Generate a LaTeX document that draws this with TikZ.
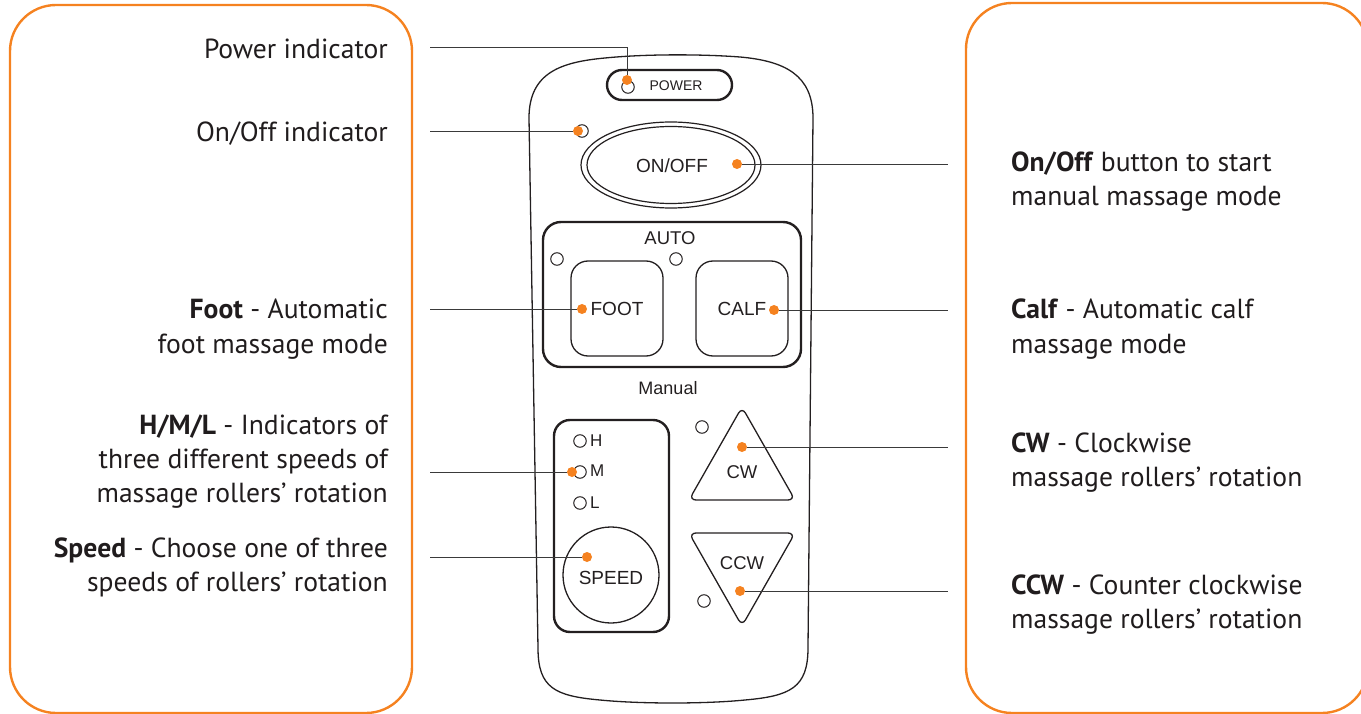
\documentclass[tikz,border=0pt]{standalone}
\usepackage{fontspec}
\setmainfont{PT Sans}
\newfontfamily\arialf{Liberation Sans}
\usetikzlibrary{shapes.geometric}
\definecolor{orng}{HTML}{F58220}
\definecolor{txt}{HTML}{231F20}
\definecolor{lead}{HTML}{3A3A3A}
\begin{document}
\begin{tikzpicture}[x=1pt,y=-1pt,
  panel/.style={draw=orng, line width=2.4pt, rounded corners=46pt},
  body/.style={draw=txt, line width=1.3pt},
  thickbox/.style={draw=txt, line width=2.4pt},
  btn/.style={draw=txt, line width=1.3pt, rounded corners=17pt, inner sep=0pt, font=\arialf\fontsize{19}{21}\selectfont, text=txt},
  led/.style={circle, draw=txt, line width=1pt, minimum size=12.5pt, inner sep=0pt},
  odot/.style={circle, fill=orng, minimum size=10pt, inner sep=0pt},
  leader/.style={draw=lead, line width=0.9pt},
  lbl/.style={font=\fontsize{27.6}{34}\selectfont, text=txt!90!black, inner sep=0pt},
  lblL/.style={lbl, anchor=base east},
  lblR/.style={lbl, anchor=base west},
  rem/.style={font=\arialf\fontsize{19}{21}\selectfont, text=txt, inner sep=0pt},
]
\useasboundingbox (0,0) rectangle (1361,714);
% panels
\draw[panel] (10,5) rectangle (412,713);
\draw[panel] (966,3) rectangle (1368,713);
% remote body
\draw[body] (529,118) .. controls (529,72) and (562,62) .. (605,58)
  .. controls (645,54) and (700,54) .. (740,57)
  .. controls (785,61) and (813,75) .. (813,118) -- (808,648)
  .. controls (808,688) and (790,696) .. (745,700)
  .. controls (705,704) and (640,704) .. (600,700)
  .. controls (555,696) and (538,688) .. (538,648) -- cycle;
% power pill
\draw[thickbox, rounded corners=15pt] (607,70) rectangle (732,100);
\node[led] (pled) at (628,87) {};
\node[rem, font=\arialf\fontsize{14}{16}\selectfont] (ptxt) at (676,86) {POWER};
% on/off
\node[led] (oled) at (582,131) {};
\draw[body, line width=1.2pt] (671,165) ellipse [x radius=90, y radius=43];
\draw[body, line width=1.2pt] (671,165) ellipse [x radius=84, y radius=38.5];
\node[rem] (ontxt) at (672,166) {ON/OFF};
% auto box
\draw[thickbox, rounded corners=18pt] (543,222) rectangle (801,367);
\node[rem, font=\arialf\fontsize{18.5}{21}\selectfont] (auto) at (670,238) {AUTO};
\node[led] (aled1) at (557,259) {};
\node[led] (aled2) at (676,259) {};
\node[btn, minimum width=92pt, minimum height=95pt] (footb) at (617,308.5) {FOOT};
\node[btn, minimum width=92pt, minimum height=95pt] (calfb) at (742,308.5) {CALF};
\node[rem, font=\arialf\fontsize{18}{21}\selectfont] (manual) at (668,388) {Manual};
% speed box
\draw[thickbox, rounded corners=16pt] (554,420) rectangle (669,632);
\node[led] (hled) at (580,441) {};
\node[led] (mled) at (580,472) {};
\node[led] (lled) at (580,503) {};
\node[rem, font=\arialf\fontsize{17}{20}\selectfont, anchor=west] (htxt) at (590,441) {H};
\node[rem, font=\arialf\fontsize{17}{20}\selectfont, anchor=west] (mtxt) at (590,471) {M};
\node[rem, font=\arialf\fontsize{17}{20}\selectfont, anchor=west] (ltxt) at (590,503) {L};
\node[circle, draw=txt, line width=1.3pt, minimum size=96pt, inner sep=0pt] (speedb) at (611,575) {};
\node[rem] (speedtxt) at (611,578) {SPEED};
% CW / CCW
\draw[body, rounded corners=7pt] (742,500) -- (795,500) -- (742,407) -- (689,500) -- cycle;
\node[led] (cwled) at (702,427) {};
\node[rem, font=\arialf\fontsize{18.5}{21}\selectfont] (cwtxt) at (742,472) {CW};
\draw[body, rounded corners=7pt] (742,533) -- (795,533) -- (742,626) -- (689,533) -- cycle;
\node[led] (ccwled) at (704,601) {};
\node[rem, font=\arialf\fontsize{18.5}{21}\selectfont] (ccwtxt) at (742,563) {CCW};
% orange dots
\node[odot] (dpow) at (627,80) {};
\node[odot] (don) at (578,131) {};
\node[odot] (donoff) at (737,164) {};
\node[odot] (dfoot) at (582,309) {};
\node[odot] (dcalf) at (774,310) {};
\node[odot] (dm) at (572,472) {};
\node[odot] (dspeed) at (587,557) {};
\node[odot] (dcw) at (742,447) {};
\node[odot] (dccw) at (740,591) {};
% leader ends
\coordinate (epow) at (430,47);
\coordinate (kpow) at (627,47);
\coordinate (eon) at (430,131);
\coordinate (eonoff) at (948,164);
\coordinate (efoot) at (430,309);
\coordinate (ecalf) at (948,310);
\coordinate (em) at (430,472);
\coordinate (espeed) at (430,557);
\coordinate (ecw) at (948,447);
\coordinate (eccw) at (948,591);
\draw[leader] (epow) -- (kpow) -- (dpow);
\draw[leader] (eon) -- (don);
\draw[leader] (donoff) -- (eonoff);
\draw[leader] (efoot) -- (dfoot);
\draw[leader] (dcalf) -- (ecalf);
\draw[leader] (em) -- (dm);
\draw[leader] (espeed) -- (dspeed);
\draw[leader] (dcw) -- (ecw);
\draw[leader] (dccw) -- (eccw);
% left labels
\node[lblL] (l1) at (388,59) {Power indicator};
\node[lblL] (l2) at (388,142) {On/Off indicator};
\node[lblL] (l3a) at (388,319) {\textbf{Foot} - Automatic};
\node[lblL] (l3b) at (388,353) {foot massage mode};
\node[lblL] (l4a) at (388,434) {\textbf{H/M/L} - Indicators of};
\node[lblL] (l4b) at (388,468) {three different speeds of};
\node[lblL] (l4c) at (388,502) {massage rollers’ rotation};
\node[lblL] (l5a) at (388,557) {\textbf{Speed} - Choose one of three};
\node[lblL] (l5b) at (388,591) {speeds of rollers’ rotation};
% right labels
\node[lblR] (r1a) at (1011,172) {\textbf{On/Off} button to start};
\node[lblR] (r1b) at (1011,206) {manual massage mode};
\node[lblR] (r2a) at (1011,319) {\textbf{Calf} - Automatic calf};
\node[lblR] (r2b) at (1011,353) {massage mode};
\node[lblR] (r3a) at (1011,452) {\textbf{CW} - Clockwise};
\node[lblR] (r3b) at (1011,486) {massage rollers’ rotation};
\node[lblR] (r4a) at (1011,594) {\textbf{CCW} - Counter clockwise};
\node[lblR] (r4b) at (1011,628) {massage rollers’ rotation};
\end{tikzpicture}
\end{document}
